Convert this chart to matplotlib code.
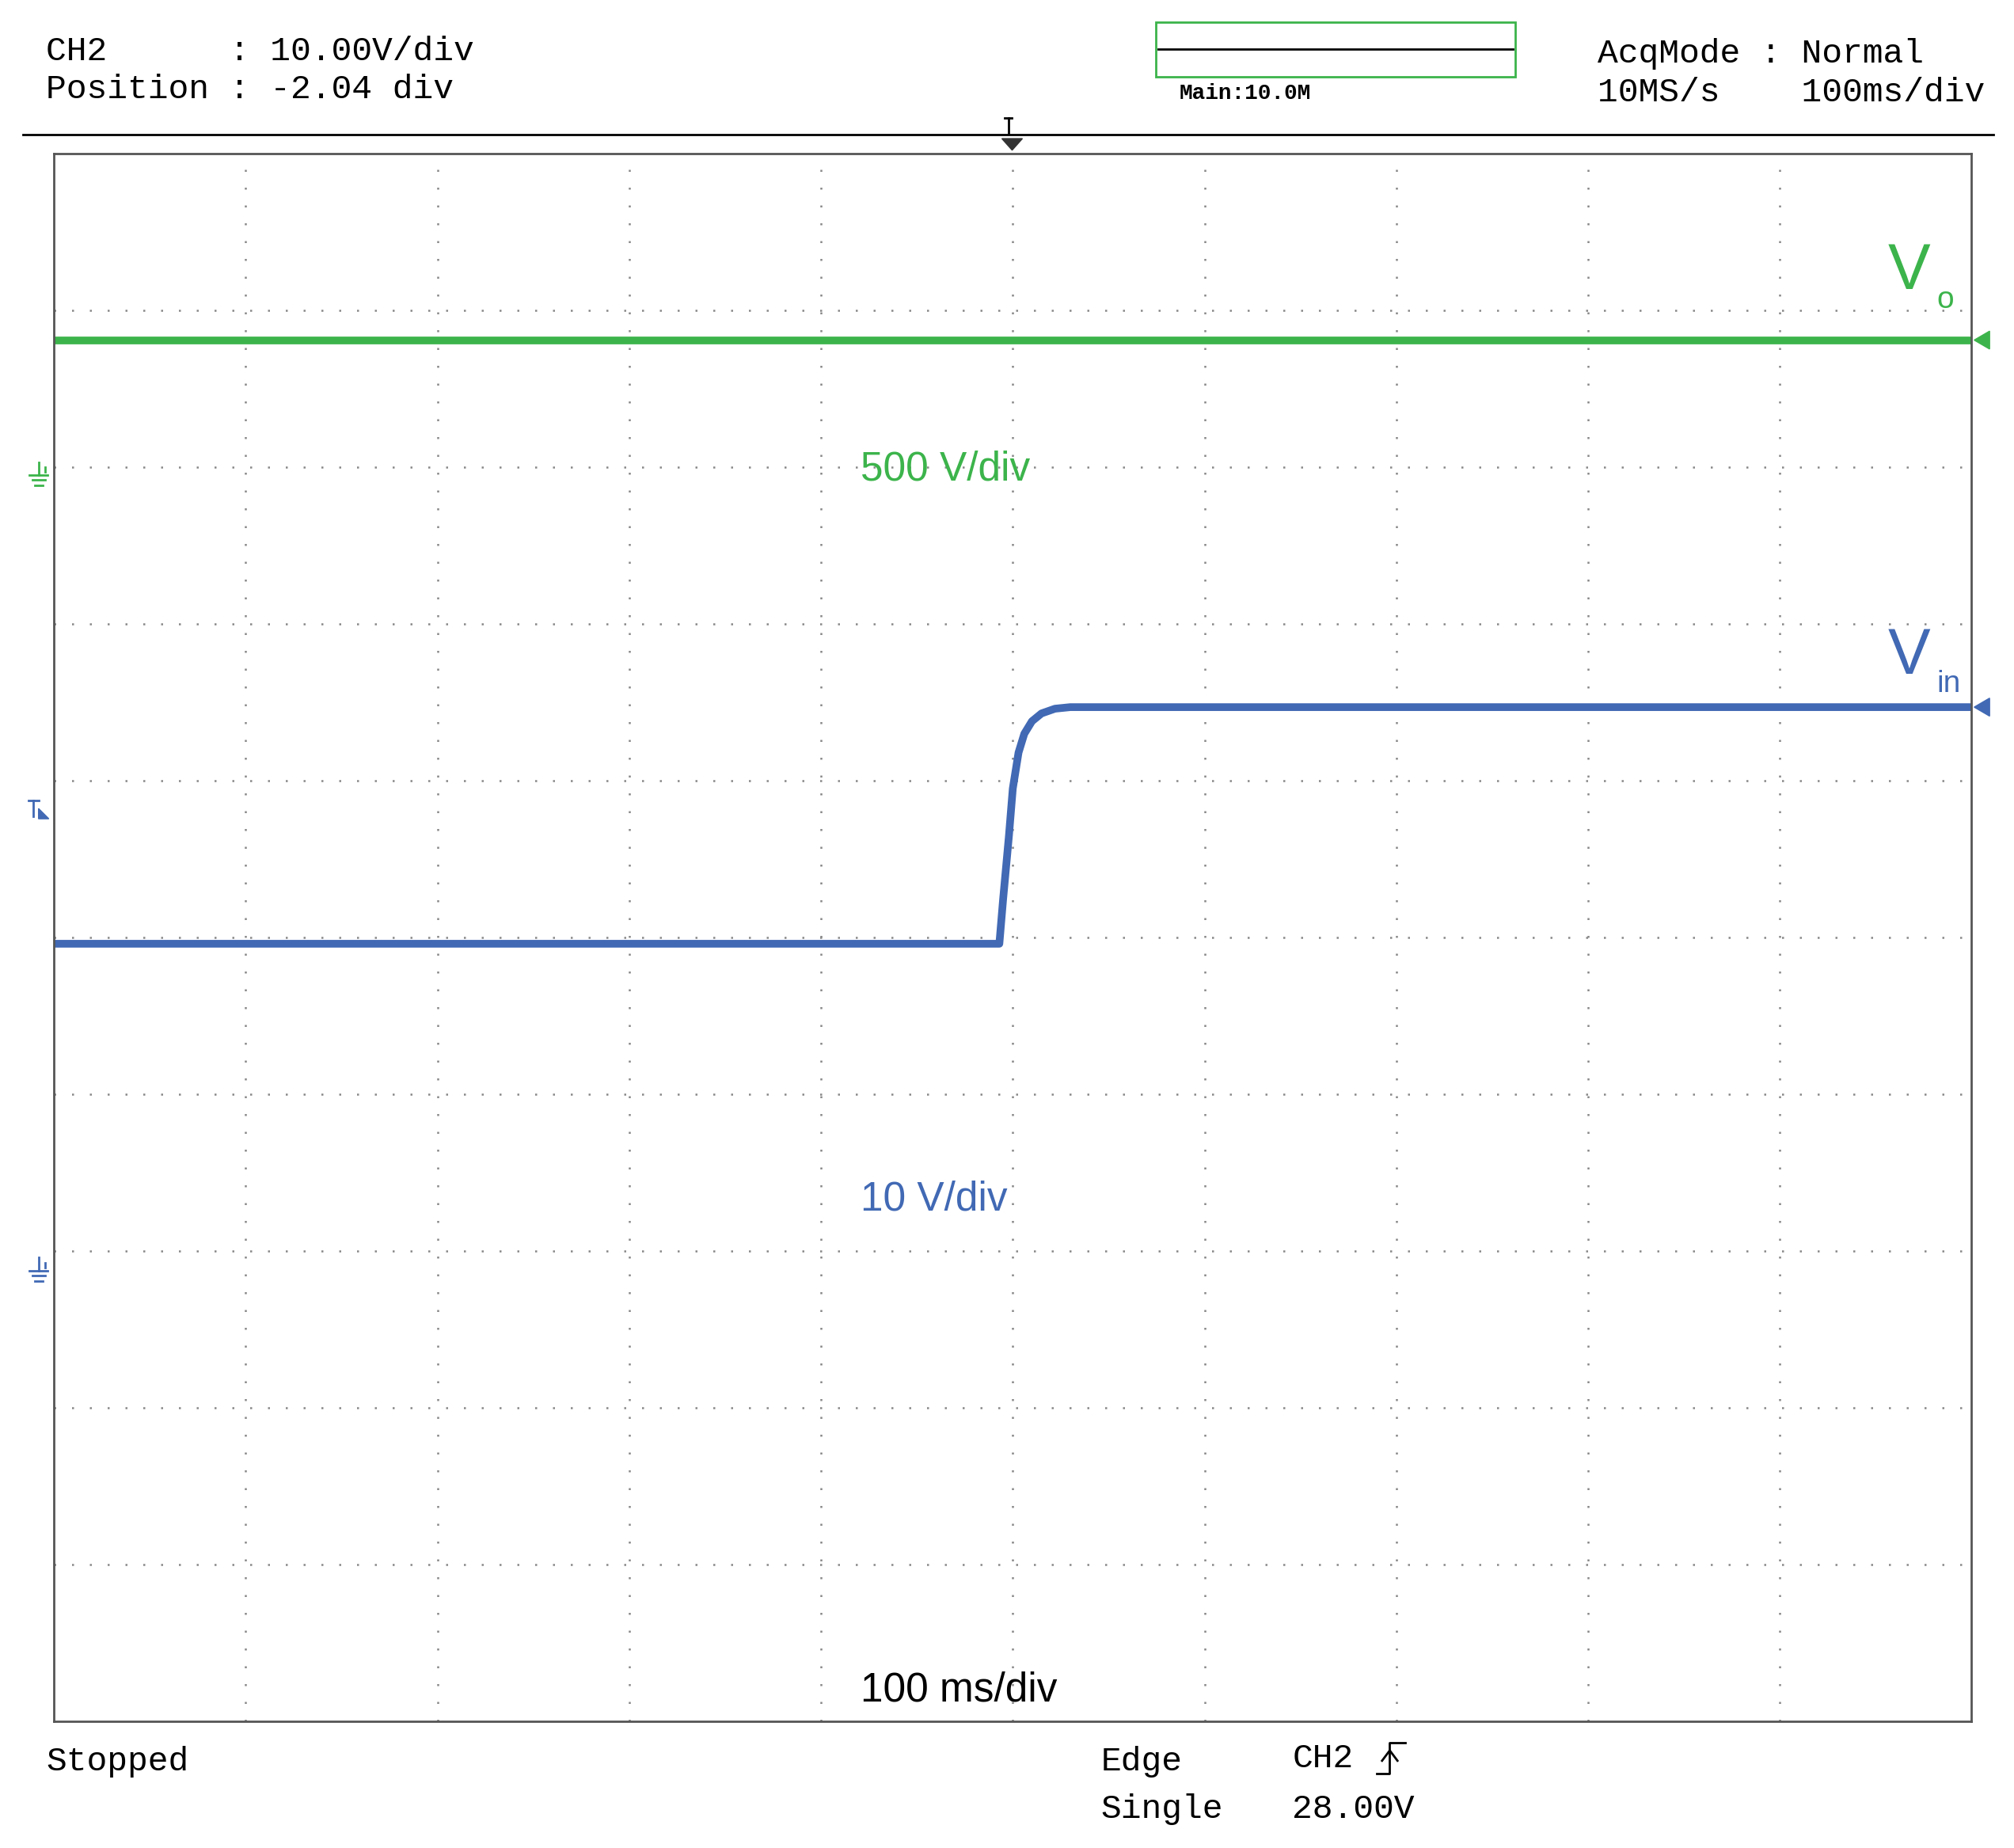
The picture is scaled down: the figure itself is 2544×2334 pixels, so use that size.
import matplotlib
matplotlib.use("Agg")
import matplotlib.pyplot as plt
import numpy as np

# data in divisions (x: 0..10 div of 100 ms, y: 0..10 div from bottom)
vo_t = [0.0, 10.0]
vo_v = [8.81, 8.81]
vin_t = [0.0, 4.93, 4.95, 4.98, 5.00, 5.03, 5.06, 5.10, 5.15, 5.22, 5.30, 5.40, 10.0]
vin_v = [4.96, 4.96, 5.25, 5.65, 5.95, 6.18, 6.30, 6.38, 6.43, 6.46, 6.47, 6.47, 6.47]

W, H = 1568.0, 1440.0
def fx(x): return x / W
def fy(y): return 1 - y / H

fig = plt.figure(figsize=(25.44, 23.34), dpi=100)
fig.patch.set_facecolor("white")
ax = fig.add_axes([fx(42), fy(1341), fx(1535) - fx(42), fy(120) - fy(1341)])
ax.set_xlim(0, 10); ax.set_ylim(0, 10)
ax.set_xticks([]); ax.set_yticks([])
for s in ax.spines.values():
    s.set_color("#555555"); s.set_linewidth(2)
for i in range(1, 10):
    ax.axvline(i, color="#888888", lw=1.8, ls=(0, (1, 8)))
    ax.axhline(i, color="#888888", lw=1.8, ls=(0, (1, 8)))

green = "#3cb44b"; blue = "#4169b4"
ax.plot(vo_t, vo_v, color=green, lw=7, solid_capstyle="butt")
ax.plot(vin_t, vin_v, color=blue, lw=7, solid_capstyle="butt")

def L(xs, ys, c="black", lw=2):
    fig.add_artist(plt.Line2D([fx(x) for x in xs], [fy(y) for y in ys], color=c, lw=lw))

mono = "Liberation Mono"
sans = "Liberation Sans"
fs = 31
fig.text(fx(36), fy(40), "CH2      : 10.00V/div", family=mono, fontsize=fs, va="center")
fig.text(fx(36), fy(70), "Position : -2.04 div", family=mono, fontsize=fs, va="center")
fig.text(fx(1244), fy(42), "AcqMode : Normal", family=mono, fontsize=fs, va="center")
fig.text(fx(1244), fy(72), "10MS/s    100ms/div", family=mono, fontsize=fs, va="center")
fig.text(fx(918), fy(73), "Main:10.0M", family=mono, fontsize=20, va="center", weight="bold")
fig.text(fx(36), fy(1373), "Stopped", family=mono, fontsize=fs, va="center")
fig.text(fx(857), fy(1373), "Edge", family=mono, fontsize=fs, va="center")
fig.text(fx(857), fy(1410), "Single", family=mono, fontsize=fs, va="center")
fig.text(fx(1006), fy(1370), "CH2", family=mono, fontsize=fs, va="center")
fig.text(fx(1006), fy(1410), "28.00V", family=mono, fontsize=fs, va="center")
# edge symbol
L([1072, 1082, 1082, 1094], [1382, 1382, 1358, 1358])
L([1076, 1082, 1088], [1372, 1364, 1372])

L([18, 1552], [105, 105])
fig.add_artist(plt.Rectangle((fx(900), fy(60)), fx(1180) - fx(900), fy(17) - fy(60),
                             fill=False, edgecolor=green, lw=2))
L([902, 1178], [38, 38])
# trigger marker
L([782, 788], [92, 92]); L([785, 785], [92, 104])
fig.add_artist(plt.Polygon([(fx(780), fy(108)), (fx(796), fy(108)), (fx(788), fy(117))],
                           closed=True, color="#333333"))

fig.text(fx(670), fy(366), "500 V/div", color=green, fontsize=37, va="center", family=sans)
fig.text(fx(670), fy(935), "10 V/div", color=blue, fontsize=37, va="center", family=sans)
fig.text(fx(670), fy(1317), "100 ms/div", color="black", fontsize=37, va="center", family=sans)
fig.text(fx(1470), fy(212), "V", color=green, fontsize=58, va="center", family=sans)
fig.text(fx(1508), fy(234), "o", color=green, fontsize=28, va="center", family=sans)
fig.text(fx(1470), fy(512), "V", color=blue, fontsize=58, va="center", family=sans)
fig.text(fx(1508), fy(533), "in", color=blue, fontsize=28, va="center", family=sans)

for yy, c in [(265, green), (551, blue)]:
    fig.add_artist(plt.Polygon([(fx(1537), fy(yy)), (fx(1549), fy(yy - 7)), (fx(1549), fy(yy + 7))],
                               closed=True, color=c))
# ground symbols
for yy, c in [(370, green), (990, blue)]:
    L([30, 30], [yy - 10, yy], c)
    L([23, 37], [yy, yy], c); L([25, 35], [yy + 4, yy + 4], c); L([27, 33], [yy + 8, yy + 8], c)
    L([35, 35], [yy - 6, yy - 2], c)
# trigger level marker
L([22, 30], [624, 624], blue); L([26, 26], [624, 636], blue)
fig.add_artist(plt.Polygon([(fx(30), fy(638)), (fx(38), fy(638)), (fx(30), fy(630))], closed=True, color=blue))

fig.savefig("out.png", dpi=100)
